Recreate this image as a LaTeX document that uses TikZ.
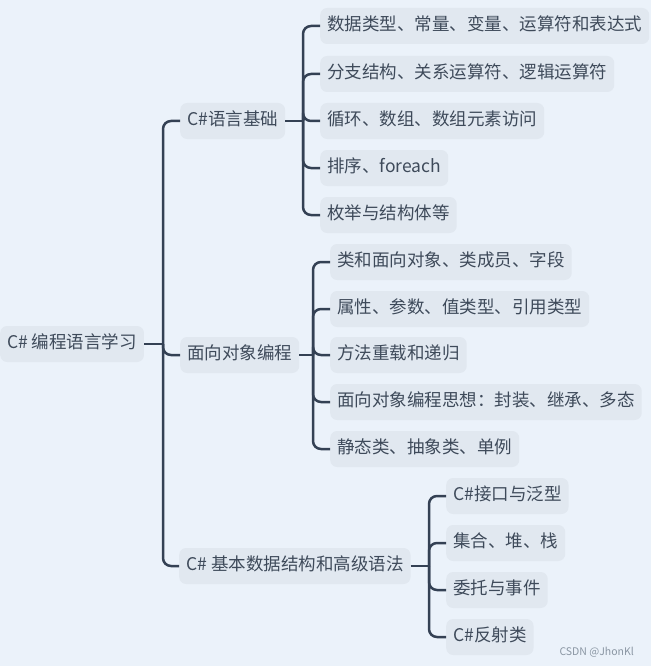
\documentclass[tikz,border=0pt]{standalone}
\usepackage{fontspec}
\setmainfont{Noto Sans CJK SC}
\definecolor{bgc}{HTML}{EBF2FA}
\definecolor{boxc}{HTML}{E1E8F0}
\definecolor{txtc}{HTML}{3E4A5A}
\definecolor{linec}{HTML}{344154}
\definecolor{wmc}{HTML}{8A96A3}
\tikzset{
  topic/.style={anchor=west, fill=boxc, rounded corners=7pt, minimum height=36pt,
    inner xsep=7pt, inner ysep=0pt, text=txtc, text height=13pt, text depth=3.5pt,
    font=\fontsize{17.5}{19}\selectfont},
  conn/.style={draw=linec, line width=2.5pt, rounded corners=8pt},
}
\begin{document}
\begin{tikzpicture}[x=1pt,y=-1pt]
\fill[bgc] (0,0) rectangle (651,666);
\useasboundingbox (0,0) rectangle (651,666);
% root
\node[topic] (root) at (0,344) {C\# 编程语言学习};
% branches
\node[topic] (b1) at (180,121) {C\#语言基础};
\node[topic] (b2) at (180,355) {面向对象编程};
\node[topic] (b3) at (179,566) {C\# 基本数据结构和高级语法};
% leaves of b1
\node[topic] (l11) at (320,26) {数据类型、常量、变量、运算符和表达式};
\node[topic] (l12) at (320,74) {分支结构、关系运算符、逻辑运算符};
\node[topic] (l13) at (320,121) {循环、数组、数组元素访问};
\node[topic] (l14) at (320,168) {排序、foreach};
\node[topic] (l15) at (320,215) {枚举与结构体等};
% leaves of b2
\node[topic] (l21) at (330,262) {类和面向对象、类成员、字段};
\node[topic] (l22) at (330,309) {属性、参数、值类型、引用类型};
\node[topic] (l23) at (330,355) {方法重载和递归};
\node[topic] (l24) at (330,402) {面向对象编程思想：封装、继承、多态};
\node[topic] (l25) at (330,449) {静态类、抽象类、单例};
% leaves of b3
\node[topic] (l31) at (446,496) {C\#接口与泛型};
\node[topic] (l32) at (446,543) {集合、堆、栈};
\node[topic] (l33) at (446,590) {委托与事件};
\node[topic] (l34) at (446,637) {C\#反射类};
% watermark
\node[text=wmc, font=\fontsize{10.5}{12}\selectfont, anchor=west] (wm) at (556,652) {CSDN @JhonKl};
% connectors
\coordinate (t0) at (163,344);
\coordinate (t1) at (303,121);
\coordinate (t2) at (313,355);
\coordinate (t3) at (429,566);
\draw[conn] (root.east) -- (t0);
\foreach \c in {b1,b2,b3} \draw[conn] (t0) |- (\c.west);
\draw[conn] (b1.east) -- (t1);
\foreach \c in {l11,l12,l13,l14,l15} \draw[conn] (t1) |- (\c.west);
\draw[conn] (b2.east) -- (t2);
\foreach \c in {l21,l22,l23,l24,l25} \draw[conn] (t2) |- (\c.west);
\draw[conn] (b3.east) -- (t3);
\foreach \c in {l31,l32,l33,l34} \draw[conn] (t3) |- (\c.west);
\end{tikzpicture}
\end{document}
